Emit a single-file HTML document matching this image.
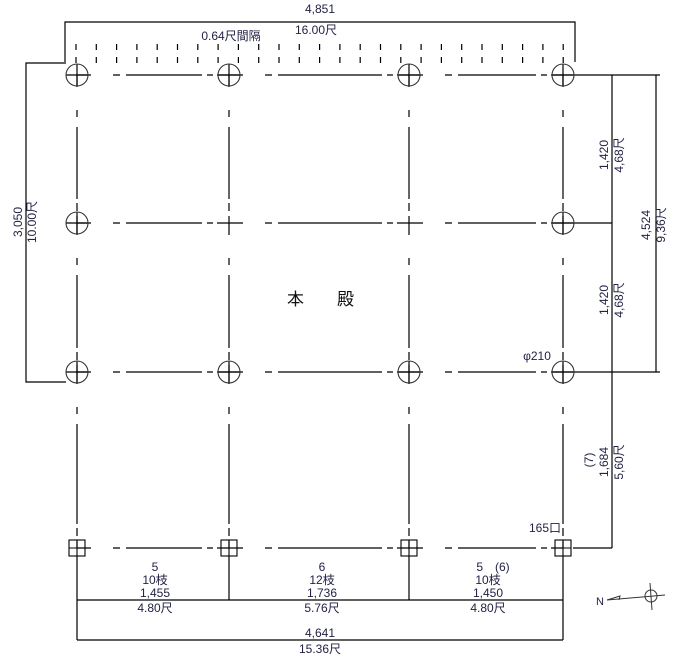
<!DOCTYPE html>
<html><head><meta charset="utf-8"><style>
html,body{margin:0;padding:0;background:#fff;}
svg{display:block;}
text{font-family:"Liberation Sans","Noto Sans CJK JP",sans-serif;font-size:12px;fill:#222244;}
</style></head><body>
<svg width="679" height="663" viewBox="0 0 679 663" xmlns="http://www.w3.org/2000/svg">
<defs>
<g id="hrow">
<line x1="77" y1="0" x2="229" y2="0" stroke-dasharray="14 22 7 6 76 5 6 4 12"/>
<line x1="229" y1="0" x2="409" y2="0" stroke-dasharray="14 22 7 6 104 5 6 4 12"/>
<line x1="409" y1="0" x2="563" y2="0" stroke-dasharray="14 22 7 6 78 5 6 4 12"/>
</g>
<g id="vcol">
<line x1="0" y1="75" x2="0" y2="223" stroke-dasharray="12 23 7 10 72 4 8 5 7"/>
<line x1="0" y1="223" x2="0" y2="372" stroke-dasharray="12 23 7 10 73 4 8 5 7"/>
<line x1="0" y1="372" x2="0" y2="548" stroke-dasharray="12 23 7 10 100 4 8 5 7"/>
</g>
</defs>
<g stroke="#000" stroke-width="1.2" fill="none">
<polyline points="65,62 65,22 575,22 575,62"/>
<polyline points="66,63 26,63 26,382 66,382"/>
<line x1="575" y1="75" x2="660" y2="75"/>
<line x1="575" y1="223" x2="612" y2="223"/>
<line x1="575" y1="372" x2="660" y2="372"/>
<line x1="656" y1="75" x2="656" y2="372"/>
<line x1="612" y1="75" x2="612" y2="548"/>
<line x1="573" y1="548" x2="612" y2="548"/>
<line x1="77" y1="556" x2="77" y2="640"/>
<line x1="563" y1="556" x2="563" y2="640"/>
<line x1="229" y1="556" x2="229" y2="600"/>
<line x1="409" y1="556" x2="409" y2="600"/>
<line x1="77" y1="600" x2="563" y2="600"/>
<line x1="77" y1="640" x2="563" y2="640"/>
</g>
<g stroke="#000" stroke-width="1.2">
<path d="M76 44v6M96.3 44v6M116.6 44v6M136.9 44v6M157.2 44v6M177.5 44v6M197.8 44v6M218.1 44v6M238.4 44v6M258.7 44v6M279 44v6M299.3 44v6M319.6 44v6M339.9 44v6M360.2 44v6M380.5 44v6M400.8 44v6M421.1 44v6M441.4 44v6M461.7 44v6M482 44v6M502.3 44v6M522.6 44v6M542.9 44v6M563.2 44v6"/>
<path d="M76 57v6M96.3 57v6M116.6 57v6M136.9 57v6M157.2 57v6M177.5 57v6M197.8 57v6M218.1 57v6M238.4 57v6M258.7 57v6M279 57v6M299.3 57v6M319.6 57v6M339.9 57v6M360.2 57v6M380.5 57v6M400.8 57v6M421.1 57v6M441.4 57v6M461.7 57v6M482 57v6M502.3 57v6M522.6 57v6M542.9 57v6M563.2 57v6"/>
</g>
<g stroke="#000" stroke-width="1.2">
<use href="#hrow" transform="translate(0,75)"/>
<use href="#hrow" transform="translate(0,223)"/>
<use href="#hrow" transform="translate(0,372)"/>
<use href="#hrow" transform="translate(0,548)"/>
<line x1="563" y1="75" x2="575" y2="75"/>
<line x1="563" y1="223" x2="575" y2="223"/>
<line x1="563" y1="372" x2="575" y2="372"/>
<use href="#vcol" transform="translate(77,0)"/>
<use href="#vcol" transform="translate(229,0)"/>
<use href="#vcol" transform="translate(409,0)"/>
<use href="#vcol" transform="translate(563,0)"/>
<path d="M66 75h22M77 64v22M218 75h22M229 64v22M398 75h22M409 64v22M552 75h22M563 64v22
M66 223h22M77 212v22M552 223h22M563 212v22
M66 372h22M77 361v22M218 372h22M229 361v22M398 372h22M409 361v22M552 372h22M563 361v22"/>
</g>
<g stroke="#333" stroke-width="1.1" fill="none">
<circle cx="77" cy="75" r="11"/><circle cx="229" cy="75" r="11"/><circle cx="409" cy="75" r="11"/><circle cx="563" cy="75" r="11"/>
<circle cx="77" cy="223" r="11"/><circle cx="563" cy="223" r="11"/>
<circle cx="77" cy="372" r="11"/><circle cx="229" cy="372" r="11"/><circle cx="409" cy="372" r="11"/><circle cx="563" cy="372" r="11"/>
</g>
<g stroke="#000" stroke-width="1.1" fill="none">
<rect x="69" y="540" width="16" height="16"/><rect x="221" y="540" width="16" height="16"/>
<rect x="401" y="540" width="16" height="16"/><rect x="555" y="540" width="16" height="16"/>
<path d="M77 540v16M229 540v16M409 540v16M563 540v16M69 548h16M221 548h16M401 548h16M555 548h16"/>
</g>
<g stroke="#333" stroke-width="1" fill="none">
<line x1="607" y1="600" x2="665" y2="595"/>
<circle cx="651" cy="596" r="6"/>
<line x1="650" y1="583" x2="652" y2="610"/>
<polyline points="607,600 620,596 619,600"/>
</g>
<text x="596" y="605" style="font-size:11px;fill:#224">N</text>
<text x="320" y="13" text-anchor="middle">4,851</text>
<text x="316" y="34" text-anchor="middle">16.00尺</text>
<text x="231" y="40" text-anchor="middle">0.64尺間隔</text>
<text x="287" y="305" style="font-size:17px;fill:#111">本</text>
<text x="337" y="305" style="font-size:17px;fill:#111">殿</text>
<text x="537" y="360" text-anchor="middle">φ210</text>
<text x="545" y="532" text-anchor="middle">165口</text>
<g text-anchor="middle">
<text transform="translate(22,222) rotate(-90)">3,050</text>
<text transform="translate(36,222) rotate(-90)">10.00尺</text>
<text transform="translate(608,155) rotate(-90)">1,420</text>
<text transform="translate(623,155) rotate(-90)">4,68尺</text>
<text transform="translate(608,300) rotate(-90)">1,420</text>
<text transform="translate(623,300) rotate(-90)">4,68尺</text>
<text transform="translate(650,225) rotate(-90)">4,524</text>
<text transform="translate(665,225) rotate(-90)">9,36尺</text>
<text transform="translate(593,460) rotate(-90)">(7)</text>
<text transform="translate(608,462) rotate(-90)">1,684</text>
<text transform="translate(623,462) rotate(-90)">5,60尺</text>
<text x="155" y="571">5</text>
<text x="155" y="584">10枝</text>
<text x="155" y="597">1,455</text>
<text x="155" y="612">4.80尺</text>
<text x="322" y="571">6</text>
<text x="322" y="584">12枝</text>
<text x="322" y="597">1,736</text>
<text x="322" y="612">5.76尺</text>
<text x="493" y="571">5　(6)</text>
<text x="488" y="584">10枝</text>
<text x="488" y="597">1,450</text>
<text x="488" y="612">4.80尺</text>
<text x="320" y="637">4,641</text>
<text x="320" y="653">15.36尺</text>
</g>
</svg>
</body></html>
